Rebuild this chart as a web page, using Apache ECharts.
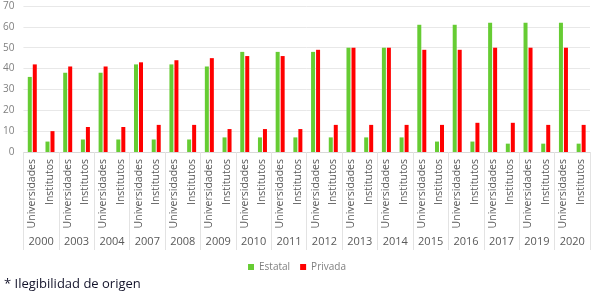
<!DOCTYPE html>
<html>
<head>
<meta charset="utf-8">
<script src="https://cdn.jsdelivr.net/npm/echarts@6/dist/echarts.min.js"></script>
<style>
  html, body { margin: 0; padding: 0; background: #fff; }
  #chart { width: 594px; height: 294px; }
</style>
</head>
<body>
<div id="chart"></div>
<script>
const years = ['2000', '2003', '2004', '2007', '2008', '2009', '2010', '2011',
  '2012', '2013', '2014', '2015', '2016', '2017', '2019', '2020'];
const kinds = ['Universidades', 'Institutos'];
// values per year: [Universidades, Institutos]
const estatal = [[36, 5], [38, 6], [38, 6], [42, 6], [42, 6], [41, 7], [48, 7], [48, 7],
  [48, 7], [50, 7], [50, 7], [61, 5], [61, 5], [62, 4], [62, 4], [62, 4]];
const privada = [[42, 10], [41, 12], [41, 12], [43, 13], [44, 13], [45, 11], [46, 11], [46, 11],
  [49, 13], [50, 13], [50, 13], [49, 13], [49, 14], [50, 14], [50, 13], [50, 13]];
const yTicks = [0, 10, 20, 30, 40, 50, 60, 70];

const cats = [];
years.forEach(() => kinds.forEach(k => cats.push(k)));
const flat = arr => arr.reduce((acc, v) => acc.concat(v), []);

const gray = '#7f7f7f';
const chart = echarts.init(document.getElementById('chart'));
chart.setOption({
  animation: false,
  grid: { left: 23, right: 4, top: 6, bottom: 142 },
  legend: {
    bottom: 17, left: 'center',
    itemWidth: 6, itemHeight: 6, itemGap: 10,
    icon: 'rect',
    textStyle: { color: gray, fontSize: 10, fontFamily: 'Open Sans' },
    data: ['Estatal', 'Privada']
  },
  graphic: [{
    type: 'text', left: 4, top: 278,
    style: { text: '* Ilegibilidad de origen', fill: '#14142b', fontSize: 13, fontFamily: 'Open Sans' }
  }],
  xAxis: [{
    type: 'category', data: cats,
    axisLine: { show: true, lineStyle: { color: '#d9d9d9' } },
    axisTick: { show: false },
    axisLabel: { rotate: 90, color: '#595959', fontSize: 10.5, fontFamily: 'Open Sans', margin: 7, interval: 0 }
  }, {
    type: 'category', data: years, position: 'bottom',
    axisLine: { show: false },
    axisTick: { show: true, length: 98, lineStyle: { color: '#e3e3e3' } },
    axisLabel: { color: '#595959', fontSize: 11, fontFamily: 'Open Sans', margin: 84, interval: 0 }
  }],
  yAxis: {
    type: 'value', min: yTicks[0], max: yTicks[yTicks.length - 1], interval: 10,
    axisLine: { show: false }, axisTick: { show: false },
    axisLabel: { color: gray, fontSize: 10, fontFamily: 'Open Sans', margin: 9 },
    splitLine: { lineStyle: { color: '#e8e8e8' } }
  },
  series: [{
    name: 'Estatal', type: 'bar', data: flat(estatal),
    barWidth: 4, barGap: '25%',
    itemStyle: { color: '#66cc33' }
  }, {
    name: 'Privada', type: 'bar', data: flat(privada),
    barWidth: 4, barGap: '25%',
    itemStyle: { color: '#ff0000' }
  }]
});
</script>
</body>
</html>
